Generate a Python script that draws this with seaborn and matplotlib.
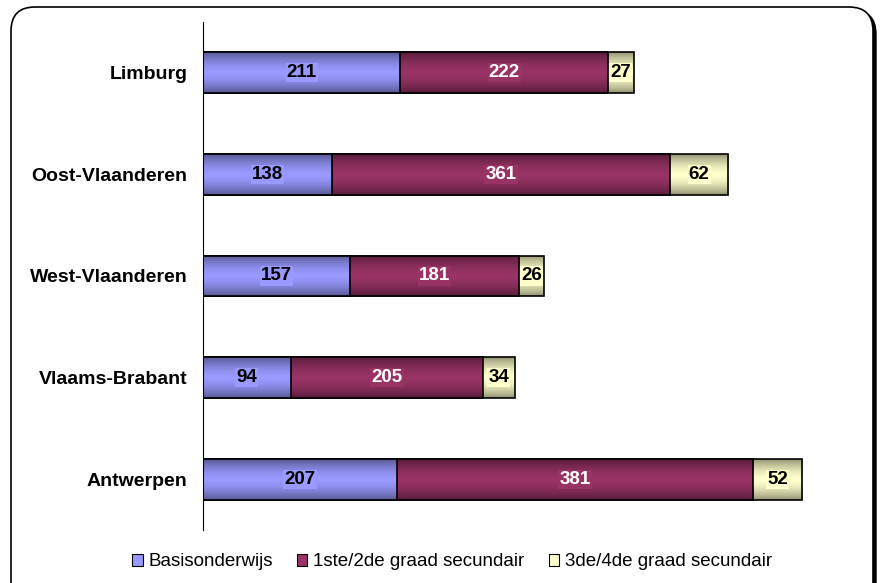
import numpy as np
import pandas as pd
import seaborn as sns
import matplotlib.pyplot as plt
from matplotlib.patches import FancyBboxPatch, Patch
from matplotlib.transforms import IdentityTransform

# data
provinces = ["Limburg", "Oost-Vlaanderen", "West-Vlaanderen", "Vlaams-Brabant", "Antwerpen"]
basis = [211, 138, 157, 94, 207]
graad12 = [222, 361, 181, 205, 381]
graad34 = [27, 62, 26, 34, 52]
series_names = ["Basisonderwijs", "1ste/2de graad secundair", "3de/4de graad secundair"]
colors = ["#9999FF", "#993366", "#FFFFCC"]
text_colors = ["black", "white", "black"]

df = pd.DataFrame({"provincie": provinces, "b": basis, "g12": graad12, "g34": graad34})
df["c1"] = df["b"]
df["c2"] = df["b"] + df["g12"]
df["c3"] = df["c2"] + df["g34"]

sns.set_style("white")
plt.rcParams["font.family"] = ["Liberation Sans", "DejaVu Sans"]
plt.rcParams["text.color"] = "black"
plt.rcParams["ytick.color"] = "black"

W, H = 880, 583
fig = plt.figure(figsize=(W / 100, H / 100), dpi=100)

# rounded frame with a little shadow on the right
shadow = FancyBboxPatch((14, -30), 862, 603, boxstyle="round,pad=0,rounding_size=24",
                        transform=IdentityTransform(), facecolor="black", edgecolor="black",
                        zorder=-3)
frame = FancyBboxPatch((11, -27), 862, 603, boxstyle="round,pad=0,rounding_size=24",
                       transform=IdentityTransform(), facecolor="white", edgecolor="black",
                       lw=1.2, zorder=-2)
fig.add_artist(shadow)
fig.add_artist(frame)

px = 0.936  # pixels per unit
x_max = 700
ax = fig.add_axes([203 / W, (H - 530) / H, x_max * px / W, 508 / H])
ax.patch.set_alpha(0)

# darkening toward top and bottom of each bar (gradient look)
t = np.linspace(-1, 1, 64)
alpha = 0.42 * np.abs(t) ** 1.6
grad = np.zeros((64, 2, 4))
grad[..., 3] = alpha[:, None]

# stacked bars drawn back to front as cumulative totals
bar_h = 0.4
for k, (col, color) in enumerate(zip(["c3", "c2", "c1"], colors[::-1])):
    n_before = len(ax.patches)
    sns.barplot(data=df, x=col, y="provincie", order=provinces, orient="h",
                color=color, saturation=1, width=bar_h, edgecolor="black", linewidth=1.2, ax=ax)
    z = 1 + k * 0.2
    for p in ax.patches[n_before:]:
        p.set_zorder(z)
        x0, y0 = p.get_x(), p.get_y()
        w, h = p.get_width(), p.get_height()
        im = ax.imshow(grad, extent=[x0, x0 + w, y0 + h, y0], aspect="auto",
                       interpolation="bilinear", zorder=z + 0.1)
        im.set_clip_path(p)

ax.set_xlim(0, x_max)
ax.set_ylim(4.5, -0.5)

# value labels
for i in range(len(provinces)):
    starts = [0, basis[i], basis[i] + graad12[i]]
    vals = [basis[i], graad12[i], graad34[i]]
    for s, v, c, tc in zip(starts, vals, colors, text_colors):
        ax.text(s + v / 2, i, str(v), ha="center", va="center", fontsize=13.5,
                fontweight="bold", color=tc, zorder=10,
                bbox=dict(boxstyle="square,pad=0.06", facecolor=c, edgecolor="none"))

for sp in ["top", "right", "bottom"]:
    ax.spines[sp].set_visible(False)
ax.spines["left"].set_color("black")
ax.spines["left"].set_linewidth(0.8)
ax.set_xticks([])
ax.set_xlabel("")
ax.set_ylabel("")
ax.tick_params(axis="y", length=0, pad=11, labelcolor="black")
for lab in ax.get_yticklabels():
    lab.set_fontweight("bold")
    lab.set_fontsize(14)

handles = [Patch(facecolor=c, edgecolor="black", lw=0.8) for c in colors]
fig.legend(handles, series_names, loc="center", bbox_to_anchor=(452 / W, (H - 562) / H),
           ncol=3, frameon=False, fontsize=13.5, handlelength=0.55, handleheight=0.55,
           handletextpad=0.3, columnspacing=1.3)

fig.savefig("out.png", dpi=100)
